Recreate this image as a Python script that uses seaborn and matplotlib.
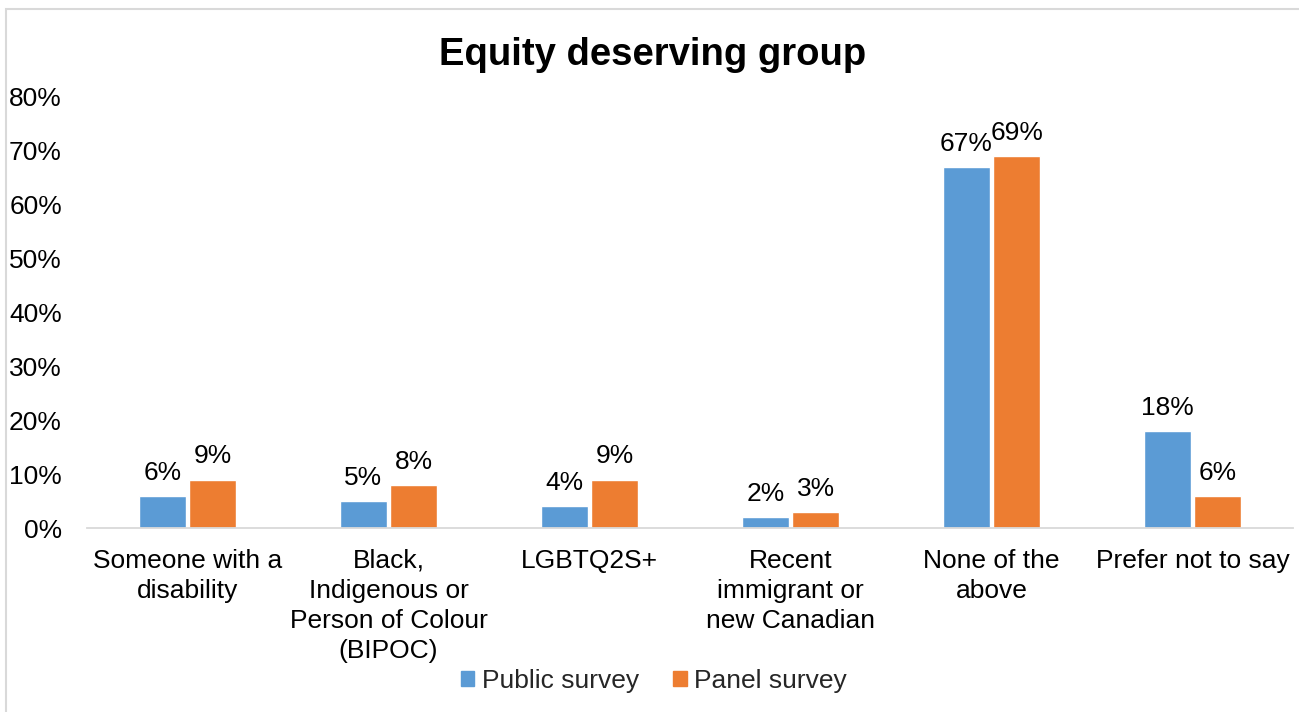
import matplotlib
matplotlib.use("Agg")
import matplotlib.pyplot as plt
from matplotlib.patches import Rectangle
import pandas as pd
import seaborn as sns

categories = [
    "Someone with a\ndisability",
    "Black,\nIndigenous or\nPerson of Colour\n(BIPOC)",
    "LGBTQ2S+",
    "Recent\nimmigrant or\nnew Canadian",
    "None of the\nabove",
    "Prefer not to say",
]
public_survey = [6, 5, 4, 2, 67, 18]
panel_survey = [9, 8, 9, 3, 69, 6]
series_names = ["Public survey", "Panel survey"]
y_ticks = [0, 10, 20, 30, 40, 50, 60, 70, 80]

df = pd.DataFrame({
    "category": categories * 2,
    "value": public_survey + panel_survey,
    "series": [series_names[0]] * len(categories) + [series_names[1]] * len(categories),
})

sns.set_theme(style="white")
plt.rcParams["font.family"] = ["Liberation Sans", "DejaVu Sans"]

fig = plt.figure(figsize=(12.99, 7.12), dpi=100)
ax = fig.add_axes([87 / 1299, 184 / 712, (1293 - 87) / 1299, (528 - 97) / 712])

colors = {"Public survey": "#5B9BD5", "Panel survey": "#ED7D31"}
sns.barplot(data=df, x="category", y="value", hue="series", order=categories,
            hue_order=series_names, palette=colors, width=0.5, gap=0.06,
            saturation=1, legend=False, ax=ax, errorbar=None)

for container, vals in zip(ax.containers, [public_survey, panel_survey]):
    ax.bar_label(container, labels=[f"{v}%" for v in vals], padding=8,
                 fontsize=19, color="#000000")

ax.set_ylim(0, 80)
ax.set_yticks(y_ticks)
ax.set_yticklabels([f"{t}%" for t in y_ticks])
ax.set_xlabel("")
ax.set_ylabel("")
ax.tick_params(axis="y", length=0, pad=18, labelsize=19, labelcolor="#000000")
ax.tick_params(axis="x", length=0, pad=15, labelsize=19, labelcolor="#000000")
for lbl in ax.get_xticklabels():
    lbl.set_linespacing(1.32)
for side in ["left", "right", "top"]:
    ax.spines[side].set_visible(False)
ax.spines["bottom"].set_color("#D9D9D9")
ax.spines["bottom"].set_linewidth(1.3)
ax.grid(False)

fig.text(653 / 1299, 1 - 55 / 712, "Equity deserving group", ha="center", va="center",
         fontsize=27.5, fontweight="bold", color="#000000")

handles = [Rectangle((0, 0), 1, 1, color=colors[s]) for s in series_names]
fig.legend(handles, series_names, loc="center", bbox_to_anchor=(654 / 1299, 31 / 712),
           ncol=2, frameon=False, fontsize=19, handlelength=0.5, handleheight=0.5,
           handletextpad=0.3, columnspacing=1.3)

fig.patches.append(Rectangle((6 / 1299, -0.05), 1.2, 1.05 - 9 / 712, transform=fig.transFigure,
                             fill=False, edgecolor="#D9D9D9", linewidth=1.5))

fig.savefig("out.png", dpi=100)
